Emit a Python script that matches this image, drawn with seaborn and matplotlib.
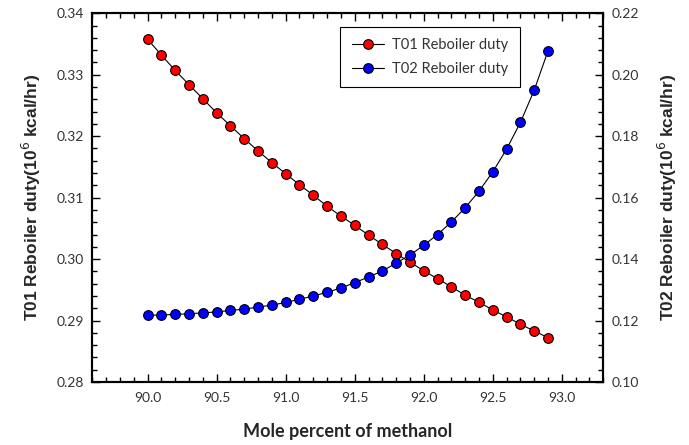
import numpy as np
import pandas as pd
import matplotlib
matplotlib.use("Agg")
import matplotlib.pyplot as plt
from matplotlib.ticker import MultipleLocator, FormatStrFormatter
import seaborn as sns

# mole percent of methanol, 90.0 .. 92.9
mole_pct = [90.0, 90.1, 90.2, 90.3, 90.4, 90.5, 90.6, 90.7, 90.8, 90.9,
            91.0, 91.1, 91.2, 91.3, 91.4, 91.5, 91.6, 91.7, 91.8, 91.9,
            92.0, 92.1, 92.2, 92.3, 92.4, 92.5, 92.6, 92.7, 92.8, 92.9]

t01_duty = [0.3358, 0.3332, 0.3307, 0.3284, 0.3261, 0.3238, 0.3217, 0.3196, 0.3176, 0.3157,
            0.3139, 0.3121, 0.3104, 0.3086, 0.3070, 0.3055, 0.3039, 0.3024, 0.3009, 0.2995,
            0.2981, 0.2968, 0.2955, 0.2941, 0.2930, 0.2917, 0.2906, 0.2894, 0.2883, 0.2872]

t02_duty = [0.1217, 0.1218, 0.1220, 0.1222, 0.1225, 0.1228, 0.1233, 0.1237, 0.1244, 0.1250,
            0.1259, 0.1269, 0.1280, 0.1292, 0.1306, 0.1323, 0.1342, 0.1361, 0.1387, 0.1413,
            0.1445, 0.1480, 0.1521, 0.1567, 0.1621, 0.1684, 0.1758, 0.1845, 0.1950, 0.2078]

df = pd.DataFrame({"mole": mole_pct, "t01": t01_duty, "t02": t02_duty})

sns.set_theme(style="white")
plt.rcParams["font.family"] = ["Lato", "DejaVu Sans"]

fig = plt.figure(figsize=(6.89, 4.45), dpi=100)
ax1 = fig.add_axes([0.134, 0.1416, 0.7416, 0.8285])
ax2 = ax1.twinx()

line_kw = dict(color="black", linewidth=0.8, marker="o", markersize=7,
               markeredgecolor="black", markeredgewidth=0.8)
sns.lineplot(data=df, x="mole", y="t01", ax=ax1, markerfacecolor="#ff0000",
             label="T01 Reboiler duty", legend=False, **line_kw)
sns.lineplot(data=df, x="mole", y="t02", ax=ax2, markerfacecolor="#0000ff",
             label="T02 Reboiler duty", legend=False, **line_kw)

ax1.set_xlim(89.6, 93.3)
ax1.set_ylim(0.28, 0.34)
ax2.set_ylim(0.10, 0.22)

ax1.xaxis.set_major_locator(MultipleLocator(0.5))
ax1.xaxis.set_minor_locator(MultipleLocator(0.1))
ax1.xaxis.set_major_formatter(FormatStrFormatter("%.1f"))
ax1.yaxis.set_major_locator(MultipleLocator(0.01))
ax1.yaxis.set_minor_locator(MultipleLocator(0.002))
ax1.yaxis.set_major_formatter(FormatStrFormatter("%.2f"))
ax2.yaxis.set_major_locator(MultipleLocator(0.02))
ax2.yaxis.set_minor_locator(MultipleLocator(0.004))
ax2.yaxis.set_major_formatter(FormatStrFormatter("%.2f"))

for ax in (ax1, ax2):
    for s in ax.spines.values():
        s.set_linewidth(1.5)
        s.set_color("black")
ax1.tick_params(axis="x", which="both", direction="in", top=True, bottom=True,
                labelsize=10, labelcolor="#333333", pad=7, color="black")
ax1.tick_params(axis="y", which="both", direction="in", left=True, right=False,
                labelsize=10, labelcolor="#333333", pad=6, color="black")
ax2.tick_params(axis="y", which="both", direction="in", right=True, left=False,
                labelsize=10, labelcolor="#333333", pad=6, color="black")
for ax in (ax1, ax2):
    ax.tick_params(which="major", length=6, width=1)
    ax.tick_params(which="minor", length=3.5, width=1)

ylab_font = dict(family=["Liberation Sans", "DejaVu Sans"], fontsize=12.5, fontweight="bold")
ax1.set_ylabel("T01 Reboiler duty(10$^6$ kcal/hr)", labelpad=10, **ylab_font)
ax2.set_ylabel("T02 Reboiler duty(10$^6$ kcal/hr)", labelpad=12, **ylab_font)
ax1.set_xlabel("Mole percent of methanol", fontsize=13, fontweight="bold", labelpad=14)

h1, l1 = ax1.get_legend_handles_labels()
h2, l2 = ax2.get_legend_handles_labels()
leg = ax2.legend(h1 + h2, l1 + l2, loc="upper right", bbox_to_anchor=(0.837, 0.964),
                 borderaxespad=0, frameon=True, fancybox=False, fontsize=10.5,
                 handlelength=2.2, handletextpad=0.55, borderpad=0.8,
                 labelspacing=0.65, edgecolor="black", framealpha=1)
leg.get_frame().set_linewidth(0.8)
for t in leg.get_texts():
    t.set_color("#333333")

fig.savefig("out.png", dpi=100)
